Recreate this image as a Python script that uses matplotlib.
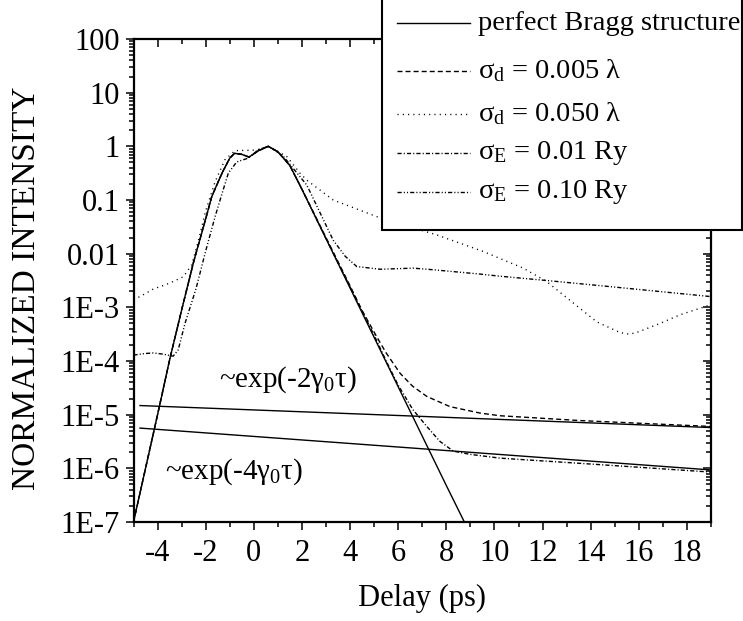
import matplotlib
matplotlib.use("Agg")
import matplotlib.pyplot as plt
import numpy as np
from matplotlib.lines import Line2D
from matplotlib.patches import Rectangle
from matplotlib.ticker import FixedLocator, LogLocator, NullFormatter, MultipleLocator

plt.rcParams['font.family'] = ['Liberation Serif', 'DejaVu Serif']
plt.rcParams['mathtext.fontset'] = 'custom'
plt.rcParams['mathtext.rm'] = 'Liberation Serif'
plt.rcParams['mathtext.it'] = 'Liberation Serif:italic'

# ---- data (x in ps, values are log10 of normalized intensity) ----
x_perfect = [-5, -4, -3.5, -3, -2.5, -2, -1.75, -1.5, -1.3, -1.0, -0.8, -0.5, -0.2, 0.2, 0.6, 1.0, 1.5, 2.0, 3.0, 4.0, 5.0, 6.0, 7.0, 8.0, 8.75]
y_perfect = [-7.0, -5.0, -3.98, -3.05, -2.15, -1.35, -0.94, -0.68, -0.48, -0.22, -0.13, -0.15, -0.20, -0.08, 0.0, -0.10, -0.36, -0.80, -1.72, -2.64, -3.56, -4.48, -5.40, -6.32, -7.0]

x_sd005 = [-5, -4, -3.5, -3, -2.5, -2, -1.75, -1.5, -1.3, -1.0, -0.8, -0.5, -0.2, 0.2, 0.6, 1.0, 1.5, 2.0, 3.0, 3.5, 4.0, 4.5, 5.11, 5.5, 6.08, 6.6, 7.19, 8.15, 9.4, 10.23, 13.56, 19.0]
y_sd005 = [-7.0, -5.0, -3.98, -3.05, -2.15, -1.35, -0.94, -0.68, -0.48, -0.22, -0.13, -0.15, -0.20, -0.08, 0.0, -0.10, -0.36, -0.80, -1.70, -2.15, -2.60, -3.06, -3.55, -3.85, -4.23, -4.47, -4.66, -4.85, -4.97, -5.02, -5.11, -5.22]

x_sd050 = [-5, -4.73, -4.18, -3.5, -2.93, -2.58, -2.3, -2.0, -1.6, -1.2, -0.78, 0.12, 0.6, 1.37, 1.92, 2.2, 3.3, 5.11, 7.6, 9.54, 10.23, 11.2, 12.17, 13.28, 14.25, 15.22, 15.6, 15.91, 16.88, 17.71, 19.0]
y_sd050 = [-2.85, -2.80, -2.66, -2.55, -2.43, -2.21, -1.75, -1.20, -0.65, -0.25, -0.08, -0.07, 0.0, -0.19, -0.50, -0.63, -1.00, -1.31, -1.65, -1.96, -2.09, -2.27, -2.52, -2.92, -3.27, -3.47, -3.50, -3.47, -3.30, -3.14, -2.95]

x_se001 = [-5, -4, -3.5, -3, -2.5, -2, -1.75, -1.5, -1.3, -1.0, -0.8, -0.5, -0.2, 0.2, 0.6, 1.0, 1.5, 2.0, 3.0, 4.0, 5.0, 5.5, 6.0, 6.6, 7.19, 7.74, 8.29, 9.0, 10.23, 14.0, 19.0]
y_se001 = [-7.0, -5.0, -3.98, -3.05, -2.15, -1.35, -0.94, -0.68, -0.48, -0.22, -0.13, -0.15, -0.20, -0.08, 0.0, -0.10, -0.36, -0.80, -1.72, -2.62, -3.52, -4.00, -4.45, -4.90, -5.22, -5.50, -5.68, -5.74, -5.81, -5.92, -6.07]

x_se010 = [-5, -4.5, -4.18, -3.8, -3.35, -3.14, -2.86, -2.4, -2.0, -1.61, -1.3, -1.06, -0.71, -0.23, 0.2, 0.6, 1.2, 2.2, 3.3, 3.8, 4.28, 5.25, 6.63, 7.46, 9.4, 10.23, 12.17, 14.94, 19.0]
y_se010 = [-3.89, -3.86, -3.85, -3.87, -3.91, -3.79, -3.30, -2.65, -1.95, -1.31, -0.85, -0.50, -0.29, -0.22, -0.06, 0.0, -0.17, -0.72, -1.75, -2.05, -2.24, -2.29, -2.27, -2.30, -2.38, -2.42, -2.50, -2.62, -2.80]

# guide lines (asymptotes)
x_guide = [-4.73, 19.0]
y_guide_2g = [-4.83, -5.24]
y_guide_4g = [-5.25, -6.03]

labels = ["perfect Bragg structure",
          "σ$_{\\mathrm{d}}$ = 0.005 λ",
          "σ$_{\\mathrm{d}}$ = 0.050 λ",
          "σ$_{\\mathrm{E}}$ = 0.01 Ry",
          "σ$_{\\mathrm{E}}$ = 0.10 Ry"]

x_ticks = [-4, -2, 0, 2, 4, 6, 8, 10, 12, 14, 16, 18]
y_ticks = [1e2, 1e1, 1, 0.1, 0.01, 1e-3, 1e-4, 1e-5, 1e-6, 1e-7]
y_ticklabels = ["100", "10", "1", "0.1", "0.01", "1E-3", "1E-4", "1E-5", "1E-6", "1E-7"]

styles = ['-', (0, (3.6, 2.2)), (0, (0.8, 3.0)), (0, (3.0, 1.5, 0.8, 1.5)), (0, (3.0, 1.5, 0.8, 1.5, 0.8, 1.5))]

W, H = 743, 621
fig = plt.figure(figsize=(W / 100, H / 100), dpi=100)
ax = fig.add_axes([133.5 / W, (H - 522) / H, (711 - 133.5) / W, (522 - 39) / H])

series = [(x_perfect, y_perfect), (x_sd005, y_sd005), (x_sd050, y_sd050), (x_se001, y_se001), (x_se010, y_se010)]
lw = 1.0
for (xs, ys), ls in zip(series, styles):
    ax.plot(xs, 10 ** np.array(ys), color='black', lw=lw, linestyle=ls)
ax.plot(x_guide, 10 ** np.array(y_guide_2g), color='black', lw=lw)
ax.plot(x_guide, 10 ** np.array(y_guide_4g), color='black', lw=lw)

ax.set_yscale('log')
ax.set_xlim(-5, 19)
ax.set_ylim(1e-7, 100)
ax.xaxis.set_major_locator(FixedLocator(x_ticks))
ax.xaxis.set_minor_locator(MultipleLocator(1))
ax.set_xticklabels([str(t) for t in x_ticks])
ax.yaxis.set_major_locator(FixedLocator(y_ticks))
ax.set_yticklabels(y_ticklabels)
ax.yaxis.set_minor_locator(LogLocator(base=10, subs=np.arange(2, 10), numticks=30))
ax.yaxis.set_minor_formatter(NullFormatter())

for s in ax.spines.values():
    s.set_linewidth(1.6)

ax.tick_params(axis='both', which='major', labelsize=22, width=1.1, length=6.0)
ax.tick_params(axis='both', which='minor', width=1.1, length=3.3)
ax.tick_params(axis='x', which='both', bottom=True, top=True, direction='out', pad=6)
ax.tick_params(axis='y', which='both', left=True, right=True, direction='out', pad=4)
# inward ticks on top/right
for tk in ax.xaxis.get_major_ticks() + ax.xaxis.get_minor_ticks():
    tk.tick2line.set_marker(3)  # TICKDOWN
for tk in ax.yaxis.get_major_ticks() + ax.yaxis.get_minor_ticks():
    tk.tick2line.set_marker(0)  # TICKLEFT

ax.set_xlabel("Delay (ps)", fontsize=22, labelpad=12)
ax.set_ylabel("NORMALIZED INTENSITY", fontsize=24)
ax.yaxis.set_label_coords(-0.159, 0.484)

ax.text(-1.45, 10 ** -4.35, "~exp(-2γ$_{\\mathrm{0}}$τ)", fontsize=21, va='center', ha='left')
ax.text(-3.69, 10 ** -6.07, "~exp(-4γ$_{\\mathrm{0}}$τ)", fontsize=21, va='center', ha='left')

# legend box (extends past the top of the figure)
fx = lambda px: px / W
fy = lambda py: (H - py) / H
rect = Rectangle((fx(382), fy(230)), fx(742) - fx(382), 1.2, transform=fig.transFigure,
                 facecolor='white', edgecolor='black', linewidth=1.5, zorder=10, clip_on=False)
fig.add_artist(rect)
rows = [23.3, 70.5, 114, 153.3, 192]
for lab, ls, ry in zip(labels, styles, rows):
    fig.add_artist(Line2D([fx(397), fx(470)], [fy(ry), fy(ry)], transform=fig.transFigure,
                          color='black', lw=lw, linestyle=ls, zorder=11))
    fig.text(fx(478), fy(ry), lab, fontsize=20.5, va='center', ha='left', zorder=12)

fig.savefig("out.png", dpi=100)
